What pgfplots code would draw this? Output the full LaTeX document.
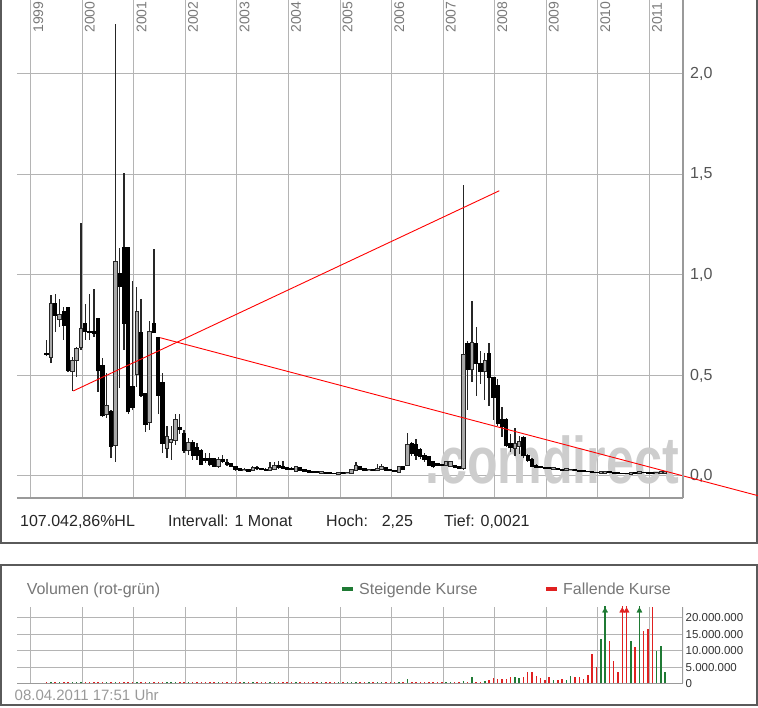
\documentclass[border=0pt]{standalone}
\usepackage{pgfplots}
\pgfplotsset{compat=1.18}
\usepackage{pgfplotstable}
\usepackage{fontspec}
\setmainfont{Liberation Sans}
\definecolor{gridc}{HTML}{B4B4B4}
\definecolor{gridd}{HTML}{9A9A9A}
\definecolor{framec}{HTML}{5A5A5A}
\definecolor{vgreen}{HTML}{1F7A34}
\definecolor{vred}{HTML}{E02020}
\definecolor{hollow}{HTML}{A8A8A8}
\definecolor{labc}{HTML}{555555}
\definecolor{yearc}{HTML}{7A7A7A}
\definecolor{wmark}{HTML}{CDCDCD}
\definecolor{softc}{HTML}{777777}
\definecolor{stampc}{HTML}{999999}

% month index m: 0 = Jan 1999
\pgfplotstableread{
m O H L C V
4 0.594 0.900 0.562 0.856 0.5
6 0.780 0.880 0.743 0.800 0.5
9 0.524 0.594 0.423 0.574 0.5
10 0.577 0.643 0.494 0.632 0.5
11 0.642 1.257 0.627 0.731 0.5
17 0.310 0.510 0.290 0.350 0.5
19 0.154 2.250 0.070 1.066 0.5
24 0.507 0.940 0.444 0.814 0.5
27 0.269 0.770 0.229 0.716 0.5
31 0.139 0.250 0.090 0.194 0.5
32 0.170 0.250 0.080 0.180 0.5
33 0.179 0.310 0.155 0.277 0.5
36 0.129 0.189 0.104 0.164 0.5
43 0.050 0.095 0.040 0.080 0.5
49 0.028 0.040 0.025 0.032 0.5
51 0.030 0.050 0.028 0.040 0.5
55 0.030 0.070 0.028 0.042 0.5
56 0.035 0.070 0.030 0.048 0.5
61 0.027 0.050 0.025 0.043 0.5
67 0.017 0.022 0.015 0.019 0.5
71 0.012 0.018 0.011 0.015 0.5
73 0.014 0.020 0.012 0.017 0.5
74 0.017 0.035 0.015 0.030 0.5
75 0.030 0.070 0.028 0.050 0.5
78 0.030 0.035 0.025 0.031 0.5
80 0.028 0.060 0.026 0.035 0.5
81 0.035 0.060 0.033 0.043 0.5
85 0.022 0.050 0.020 0.046 0.6
87 0.055 0.216 0.050 0.154 1.5
96 0.055 0.075 0.050 0.071 0.6
97 0.050 0.075 0.045 0.070 0.6
100 0.040 1.450 0.030 0.600 0.7
102 0.530 0.870 0.470 0.660 2.0
105 0.520 0.610 0.380 0.570 0.7
112 0.140 0.240 0.100 0.160 2.0
113 0.150 0.200 0.110 0.170 1.7
121 0.035 0.042 0.032 0.038 1.0
124 0.030 0.036 0.027 0.033 1.0
125 0.029 0.035 0.026 0.032 2.3
132 0.016 0.021 0.015 0.019 13.5
133 0.017 0.022 0.015 0.020 24
139 0.012 0.018 0.011 0.016 13
141 0.014 0.020 0.013 0.018 24
145 0.014 0.019 0.013 0.017 10
146 0.017 0.020 0.015 0.019 11.5
147 0.016 0.019 0.014 0.018 3.5
}\rise

\pgfplotstableread{
m O H L C V
3 0.610 0.675 0.595 0.605 0.5
5 0.856 0.905 0.718 0.800 0.5
7 0.817 0.840 0.677 0.751 0.5
8 0.836 0.840 0.517 0.527 0.5
12 0.756 0.856 0.677 0.718 0.5
13 0.720 0.905 0.677 0.714 0.5
14 0.718 0.930 0.693 0.710 0.5
15 0.781 0.785 0.420 0.524 0.5
16 0.549 0.587 0.295 0.300 0.5
18 0.320 0.330 0.090 0.149 0.5
20 1.005 1.134 0.440 0.942 0.5
21 1.134 1.507 0.627 0.761 0.5
22 1.134 1.140 0.310 0.320 0.5
23 0.444 0.970 0.328 0.343 0.5
25 0.711 0.880 0.395 0.403 0.5
26 0.408 0.410 0.220 0.259 0.5
28 0.756 1.129 0.711 0.716 0.5
29 0.687 0.690 0.308 0.403 0.5
30 0.463 0.514 0.114 0.164 0.5
34 0.239 0.310 0.210 0.232 0.5
35 0.209 0.229 0.114 0.129 0.5
37 0.164 0.179 0.080 0.104 0.5
38 0.139 0.164 0.080 0.104 0.5
39 0.128 0.134 0.055 0.060 0.5
40 0.085 0.114 0.065 0.080 0.5
41 0.085 0.114 0.050 0.060 0.5
42 0.085 0.090 0.045 0.050 0.5
44 0.080 0.105 0.065 0.075 0.5
45 0.065 0.085 0.050 0.060 0.5
46 0.060 0.065 0.045 0.050 0.5
47 0.045 0.050 0.025 0.035 0.5
48 0.035 0.040 0.025 0.030 0.5
50 0.030 0.035 0.020 0.025 0.5
52 0.040 0.050 0.030 0.038 0.5
53 0.038 0.040 0.028 0.032 0.5
54 0.032 0.040 0.025 0.030 0.5
57 0.050 0.075 0.035 0.045 0.5
58 0.045 0.075 0.035 0.040 0.5
59 0.040 0.045 0.030 0.035 0.5
60 0.035 0.045 0.028 0.033 0.5
62 0.040 0.045 0.025 0.030 0.5
63 0.030 0.035 0.022 0.025 0.5
64 0.025 0.030 0.018 0.020 0.5
65 0.022 0.025 0.018 0.020 0.5
66 0.020 0.024 0.015 0.018 0.5
68 0.018 0.020 0.013 0.015 0.5
69 0.015 0.018 0.011 0.013 0.5
70 0.013 0.016 0.010 0.012 0.5
72 0.015 0.018 0.012 0.014 0.5
76 0.045 0.050 0.030 0.035 0.5
77 0.035 0.040 0.028 0.030 0.5
79 0.031 0.035 0.025 0.028 0.5
82 0.043 0.045 0.028 0.030 0.5
83 0.030 0.034 0.024 0.027 0.5
84 0.027 0.030 0.020 0.022 0.5
86 0.046 0.050 0.030 0.033 0.6
88 0.163 0.170 0.100 0.113 0.6
89 0.154 0.182 0.080 0.104 0.6
90 0.130 0.140 0.085 0.096 0.5
91 0.100 0.115 0.070 0.083 0.5
92 0.096 0.100 0.050 0.055 0.5
93 0.071 0.075 0.040 0.046 0.5
94 0.060 0.065 0.050 0.055 0.5
95 0.058 0.062 0.050 0.055 0.5
98 0.050 0.055 0.040 0.045 0.5
99 0.045 0.050 0.035 0.040 0.5
101 0.660 0.670 0.330 0.530 0.6
103 0.660 0.740 0.400 0.560 0.6
104 0.560 0.620 0.460 0.520 0.6
106 0.610 0.660 0.350 0.490 1.0
107 0.490 0.490 0.280 0.390 1.7
108 0.450 0.480 0.250 0.260 1.5
109 0.280 0.345 0.196 0.245 1.5
110 0.280 0.290 0.146 0.150 1.5
111 0.160 0.210 0.120 0.140 2.0
114 0.190 0.200 0.090 0.100 2.0
115 0.100 0.110 0.070 0.080 3.5
116 0.080 0.090 0.045 0.050 3.5
117 0.050 0.060 0.040 0.045 2.3
118 0.045 0.050 0.038 0.042 1.8
119 0.042 0.046 0.036 0.040 1.0
120 0.040 0.045 0.034 0.038 2.0
122 0.038 0.040 0.030 0.033 1.2
123 0.033 0.036 0.028 0.030 1.5
126 0.032 0.034 0.025 0.027 2.0
127 0.027 0.030 0.022 0.025 2.0
128 0.025 0.028 0.021 0.023 1.5
129 0.023 0.026 0.019 0.021 2.5
130 0.021 0.024 0.017 0.019 9.0
131 0.019 0.022 0.015 0.017 5.0
134 0.020 0.021 0.015 0.017 13
135 0.017 0.019 0.013 0.015 7
136 0.015 0.017 0.012 0.014 3.5
137 0.014 0.016 0.011 0.013 24
138 0.013 0.015 0.010 0.012 24
140 0.016 0.018 0.012 0.014 11
142 0.018 0.020 0.014 0.016 16
143 0.016 0.018 0.013 0.015 16.5
144 0.015 0.017 0.012 0.014 23.4
}\fall

\begin{document}
\begin{tikzpicture}
\useasboundingbox (0pt,0pt) rectangle (758pt,708pt);
% panel frames
\draw[framec, line width=2pt] (1pt,708pt) -- (1pt,165pt) -- (757pt,165pt) -- (757pt,708pt);
\draw[framec, line width=2pt] (1pt,3pt) rectangle (757pt,143pt);

% ---------------- price panel ----------------
\begin{axis}[
  at={(17pt,210pt)}, anchor=south west, scale only axis,
  width=666pt, height=498pt,
  xmin=-3.889, xmax=151.14, ymin=-0.1095, ymax=2.368,
  clip=false, axis line style={draw=none},
  xtick={-0.7,11.3,23.3,35.3,47.3,59.3,71.3,83.3,95.3,107.3,119.3,131.3,143.3},
  xticklabels={}, major tick length=0pt,
  ytick={0,0.5,1,1.5,2}, yticklabels={{0,0},{0,5},{1,0},{1,5},{2,0}},
  yticklabel pos=right,
  yticklabel style={anchor=west, inner sep=0pt, xshift=7pt, font=\fontsize{16}{16}\selectfont, text=labc},
  grid=major, major grid style={gridc, line width=1pt},
]
\node[anchor=base west, inner sep=0pt, text=wmark, font=\fontsize{66}{66}\selectfont\bfseries, xscale=0.76] at (axis cs:91.1,-0.035) {.comdirect};

% wicks
\addplot[draw=none, mark=none, error bars/.cd, y dir=plus, y explicit, error mark=none,
  error bar style={draw=black!85, line width=1.3pt}]
  table[x=m, y=L, y error expr=\thisrow{H}-\thisrow{L}] {\rise};
\addplot[draw=none, mark=none, error bars/.cd, y dir=plus, y explicit, error mark=none,
  error bar style={draw=black!85, line width=1.3pt}]
  table[x=m, y=L, y error expr=\thisrow{H}-\thisrow{L}] {\fall};
% falling bodies
\addplot[draw=none, mark=none, error bars/.cd, y dir=plus, y explicit, error mark=none,
  error bar style={draw=black, line width=4.3pt}]
  table[x=m, y expr=\thisrow{C}-0.003, y error expr=\thisrow{O}-\thisrow{C}+0.006] {\fall};
% rising bodies: outline then fill
\addplot[draw=none, mark=none, error bars/.cd, y dir=plus, y explicit, error mark=none,
  error bar style={draw=black!85, line width=4.5pt}]
  table[x=m, y expr=\thisrow{O}-0.005, y error expr=\thisrow{C}-\thisrow{O}+0.010] {\rise};
\addplot[draw=none, mark=none, error bars/.cd, y dir=plus, y explicit, error mark=none,
  error bar style={draw=hollow, line width=2.5pt}]
  table[x=m, y=O, y error expr=\thisrow{C}-\thisrow{O}] {\rise};

% trend lines
\addplot[red, line width=0.9pt] coordinates {(9.216,0.423) (108.38,1.419)};
\addplot[red, line width=0.9pt] coordinates {(29.40,0.688) (168.6,-0.098)};

% axis border lines
\draw[gridd, line width=1.5pt] (rel axis cs:0,0) -- (rel axis cs:1,0);
\draw[gridd, line width=2pt] (rel axis cs:1,0) -- (rel axis cs:1,1);

% year labels
\node[rotate=90, anchor=north west, inner sep=0pt, text=yearc, font=\fontsize{14}{14}\selectfont] at (axis cs:-0.12,2.204) {1999};
\node[rotate=90, anchor=north west, inner sep=0pt, text=yearc, font=\fontsize{14}{14}\selectfont] at (axis cs:11.88,2.204) {2000};
\node[rotate=90, anchor=north west, inner sep=0pt, text=yearc, font=\fontsize{14}{14}\selectfont] at (axis cs:23.88,2.204) {2001};
\node[rotate=90, anchor=north west, inner sep=0pt, text=yearc, font=\fontsize{14}{14}\selectfont] at (axis cs:35.88,2.204) {2002};
\node[rotate=90, anchor=north west, inner sep=0pt, text=yearc, font=\fontsize{14}{14}\selectfont] at (axis cs:47.88,2.204) {2003};
\node[rotate=90, anchor=north west, inner sep=0pt, text=yearc, font=\fontsize{14}{14}\selectfont] at (axis cs:59.88,2.204) {2004};
\node[rotate=90, anchor=north west, inner sep=0pt, text=yearc, font=\fontsize{14}{14}\selectfont] at (axis cs:71.88,2.204) {2005};
\node[rotate=90, anchor=north west, inner sep=0pt, text=yearc, font=\fontsize{14}{14}\selectfont] at (axis cs:83.88,2.204) {2006};
\node[rotate=90, anchor=north west, inner sep=0pt, text=yearc, font=\fontsize{14}{14}\selectfont] at (axis cs:95.88,2.204) {2007};
\node[rotate=90, anchor=north west, inner sep=0pt, text=yearc, font=\fontsize{14}{14}\selectfont] at (axis cs:107.88,2.204) {2008};
\node[rotate=90, anchor=north west, inner sep=0pt, text=yearc, font=\fontsize{14}{14}\selectfont] at (axis cs:119.88,2.204) {2009};
\node[rotate=90, anchor=north west, inner sep=0pt, text=yearc, font=\fontsize{14}{14}\selectfont] at (axis cs:131.88,2.204) {2010};
\node[rotate=90, anchor=north west, inner sep=0pt, text=yearc, font=\fontsize{14}{14}\selectfont] at (axis cs:143.88,2.204) {2011};
\end{axis}

% info line
\node[anchor=base west, inner sep=0pt, font=\fontsize{16}{16}\selectfont, text=black!85] at (20pt,181.3pt) {107.042,86\%HL};
\node[anchor=base west, inner sep=0pt, font=\fontsize{16}{16}\selectfont, text=black!85] at (168pt,181.3pt) {Intervall: 1 Monat};
\node[anchor=base west, inner sep=0pt, font=\fontsize{16}{16}\selectfont, text=black!85] at (326pt,181.3pt) {Hoch:};
\node[anchor=base west, inner sep=0pt, font=\fontsize{16}{16}\selectfont, text=black!85] at (381.6pt,181.3pt) {2,25};
\node[anchor=base west, inner sep=0pt, font=\fontsize{16}{16}\selectfont, text=black!85] at (444pt,181.3pt) {Tief: 0,0021};

% ---------------- volume panel ----------------
\begin{axis}[
  at={(17pt,24.5pt)}, anchor=south west, scale only axis,
  width=666pt, height=76.5pt,
  xmin=-3.889, xmax=151.14, ymin=0, ymax=23.36,
  axis line style={draw=none},
  xtick={-0.7,11.3,23.3,35.3,47.3,59.3,71.3,83.3,95.3,107.3,119.3,131.3,143.3},
  xticklabels={}, major tick length=0pt,
  ytick={0,5,10,15,20}, yticklabels={0,{5.000.000},{10.000.000},{15.000.000},{20.000.000}},
  yticklabel pos=right,
  yticklabel style={anchor=west, inner sep=0pt, xshift=2.5pt, font=\fontsize{11.5}{11.5}\selectfont, text=black!80},
  grid=major, major grid style={gridc, line width=1pt},
]
\draw[gridd, line width=1.5pt] (rel axis cs:0,0) -- (rel axis cs:1,0);
\draw[gridd, line width=2pt] (rel axis cs:1,0) -- (rel axis cs:1,1);
\addplot[ycomb, vgreen, line width=1.5pt] table[x=m, y=V] {\rise};
\addplot[ycomb, vred, line width=1.5pt] table[x=m, y=V] {\fall};
\addplot[only marks, mark=triangle*, mark size=3pt, vgreen] coordinates {(133,22.2) (141,22.2)};
\addplot[only marks, mark=triangle*, mark size=3pt, vred] coordinates {(137,22.2) (138,22.2)};
\end{axis}

% volume panel texts
\node[anchor=base west, inner sep=0pt, font=\fontsize{16}{16}\selectfont, text=softc] at (26.6pt,113.3pt) {Volumen (rot-grün)};
\fill[vgreen] (342pt,117pt) rectangle (353pt,121pt);
\node[anchor=base west, inner sep=0pt, font=\fontsize{16}{16}\selectfont, text=softc] at (359pt,113.3pt) {Steigende Kurse};
\fill[vred] (546pt,117pt) rectangle (557pt,121pt);
\node[anchor=base west, inner sep=0pt, font=\fontsize{16}{16}\selectfont, text=softc] at (563pt,113.3pt) {Fallende Kurse};
\node[anchor=base west, inner sep=0pt, font=\fontsize{15}{15}\selectfont, text=stampc] at (14.5pt,7.6pt) {08.04.2011 17:51 Uhr};
\end{tikzpicture}
\end{document}
